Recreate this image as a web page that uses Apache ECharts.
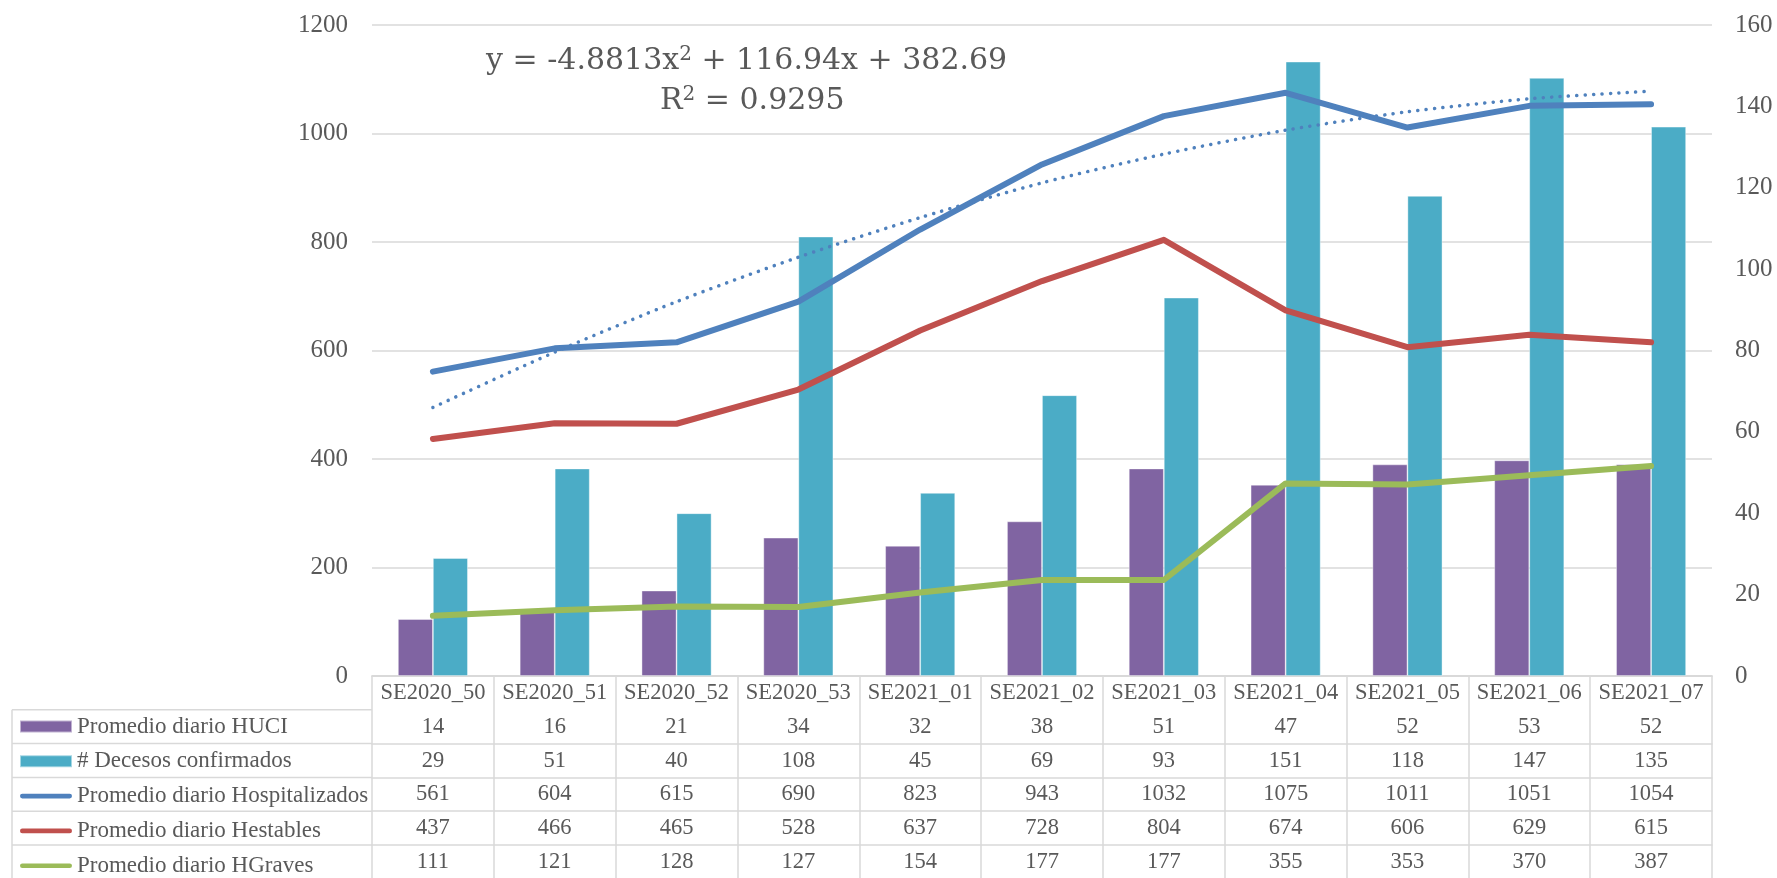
<!DOCTYPE html>
<html><head><meta charset="utf-8">
<script src="https://cdn.jsdelivr.net/npm/echarts@6/dist/echarts.min.js"></script>
<style>html,body{margin:0;padding:0;background:#fff}#c{width:1777px;height:878px}</style>
</head><body><div id="c"></div>
<script>
const categories = ['SE2020_50','SE2020_51','SE2020_52','SE2020_53','SE2021_01','SE2021_02','SE2021_03','SE2021_04','SE2021_05','SE2021_06','SE2021_07'];
const huci = [14,16,21,34,32,38,51,47,52,53,52];
const decesos = [29,51,40,108,45,69,93,151,118,147,135];
const hospitalizados = [561,604,615,690,823,943,1032,1075,1011,1051,1054];
const hestables = [437,466,465,528,637,728,804,674,606,629,615];
const hgraves = [111,121,128,127,154,177,177,355,353,370,387];
// dotted polynomial trend of Hospitalizados
const trendValues = [495,597,690,772,845,909,962,1006,1040,1064,1078];
const seriesNames = ['Promedio diario HUCI','# Decesos confirmados','Promedio diario Hospitalizados','Promedio diario Hestables','Promedio diario HGraves'];
const colors = ['#8064A2','#4BACC6','#4F81BD','#C0504D','#9BBB59'];
const equationLine1 = ['y = -4.8813x','2',' + 116.94x + 382.69'];
const equationLine2 = ['R','2',' = 0.9295'];

const FONT = 'Liberation Serif';
const TXT = '#595959';
const GRID_C = '#d9d9d9';
const ROW_H = 33.8;
const rows = [huci, decesos, hospitalizados, hestables, hgraves];

const labelStyle = {fontFamily: FONT, fontSize: 22.5, color: TXT, lineHeight: 22, margin: 6, interval: 0};
const lineAxisStyle = {show: true, lineStyle: {color: GRID_C, width: 1.5}};

const xAxes = [{
  type: 'category', data: categories, position: 'bottom', gridIndex: 0,
  axisLine: lineAxisStyle,
  axisTick: {show: true, interval: 0, length: 202, lineStyle: {color: GRID_C, width: 1.5}},
  axisLabel: labelStyle
}].concat(rows.map((r, i) => ({
  type: 'category', data: r.map(String), position: 'bottom', gridIndex: 0,
  offset: ROW_H * (i + 1),
  axisLine: lineAxisStyle, axisTick: {show: false},
  axisLabel: labelStyle
})));

const linePath = 'path://M2.5,0H53.5A2.5,2.5,0,0,1,53.5,5H2.5A2.5,2.5,0,0,1,2.5,0Z';

const graphics = [
  {type: 'line', shape: {x1: 12, y1: 676 + ROW_H, x2: 12, y2: 878}, style: {stroke: GRID_C, lineWidth: 1.5}, silent: true}
];
for (let k = 1; k <= 5; k++) {
  graphics.push({type: 'line', shape: {x1: 12, y1: 676 + ROW_H * k, x2: 372, y2: 676 + ROW_H * k}, style: {stroke: GRID_C, lineWidth: 1.5}, silent: true});
}
graphics.push({
  type: 'text', left: 486, top: 41, silent: true, z: 100,
  style: {
    text: '{t|' + equationLine1[0] + '}{s|' + equationLine1[1] + '}{t|' + equationLine1[2] + '}\n{c|}{t|' + equationLine2[0] + '}{s|' + equationLine2[1] + '}{t|' + equationLine2[2] + '}',
    rich: {
      t: {fontFamily: 'DejaVu Serif', fontSize: 30, lineHeight: 40, fill: TXT, color: TXT},
      s: {fontFamily: 'DejaVu Serif', fontSize: 20, lineHeight: 20, fill: TXT, color: TXT, verticalAlign: 'top', padding: [4, 0, 0, 0]},
      c: {width: 174, lineHeight: 40}
    }
  }
});

const chart = echarts.init(document.getElementById('c'), null, {renderer: 'canvas'});
chart.setOption({
  animation: false,
  backgroundColor: '#fff',
  grid: {left: 372, right: 65, top: 25, bottom: 202, containLabel: false},
  legend: {
    orient: 'vertical', left: 19, top: 715, padding: 0, itemWidth: 52, itemHeight: 12, itemGap: ROW_H - 22,
    selectedMode: false,
    textStyle: {fontFamily: FONT, fontSize: 23, color: TXT, lineHeight: 22},
    data: [
      {name: seriesNames[0], icon: 'rect'},
      {name: seriesNames[1], icon: 'rect'},
      {name: seriesNames[2], icon: linePath},
      {name: seriesNames[3], icon: linePath},
      {name: seriesNames[4], icon: linePath}
    ]
  },
  xAxis: xAxes,
  yAxis: [
    {type: 'value', min: 0, max: 1200, interval: 200, position: 'left',
     axisLine: {show: false}, axisTick: {show: false},
     splitLine: {lineStyle: {color: GRID_C, width: 1.5}},
     axisLabel: {fontFamily: FONT, fontSize: 25, color: TXT, margin: 24, formatter: v => String(v)}},
    {type: 'value', min: 0, max: 160, interval: 20, position: 'right',
     axisLine: {show: false}, axisTick: {show: false}, splitLine: {show: false},
     axisLabel: {fontFamily: FONT, fontSize: 25, color: TXT, margin: 23, formatter: v => String(v)}}
  ],
  graphic: graphics,
  series: [
    {name: seriesNames[0], type: 'bar', xAxisIndex: 0, yAxisIndex: 1, data: huci, barWidth: 35, barGap: '0%',
     itemStyle: {color: colors[0], borderColor: 'rgba(255,255,255,0.5)', borderWidth: 0.8}, z: 2},
    {name: seriesNames[1], type: 'bar', xAxisIndex: 0, yAxisIndex: 1, data: decesos, barWidth: 35, barGap: '0%',
     itemStyle: {color: colors[1], borderColor: 'rgba(255,255,255,0.5)', borderWidth: 0.8}, z: 2},
    {name: seriesNames[2], type: 'line', xAxisIndex: 0, yAxisIndex: 0, data: hospitalizados, symbol: 'none',
     itemStyle: {color: colors[2]}, lineStyle: {color: colors[2], width: 6, cap: 'round', join: 'round'}, z: 4},
    {name: seriesNames[3], type: 'line', xAxisIndex: 0, yAxisIndex: 0, data: hestables, symbol: 'none',
     itemStyle: {color: colors[3]}, lineStyle: {color: colors[3], width: 6, cap: 'round', join: 'round'}, z: 4},
    {name: seriesNames[4], type: 'line', xAxisIndex: 0, yAxisIndex: 0, data: hgraves, symbol: 'none',
     itemStyle: {color: colors[4]}, lineStyle: {color: colors[4], width: 6, cap: 'round', join: 'round'}, z: 4},
    {name: 'Polinómica (Promedio diario Hospitalizados)', type: 'line', xAxisIndex: 0, yAxisIndex: 0, data: trendValues,
     symbol: 'none', smooth: 0.25,
     lineStyle: {color: colors[2], width: 3.5, type: [0.1, 8.3], cap: 'round'}, z: 5}
  ]
});
</script></body></html>
